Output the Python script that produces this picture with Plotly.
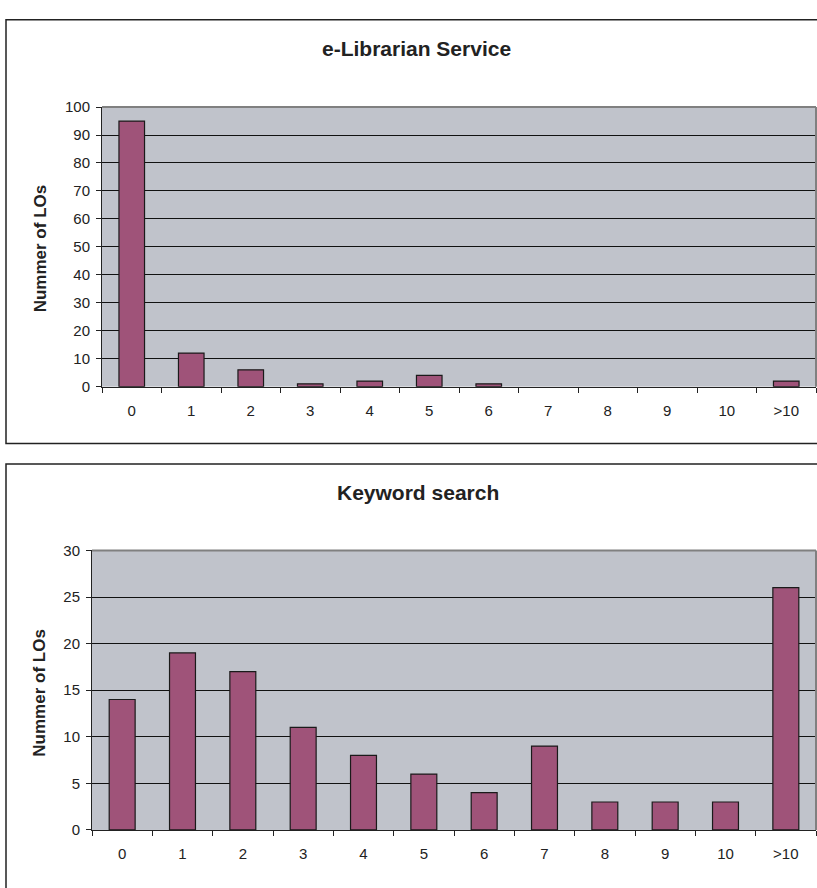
import plotly.graph_objects as go

# Number of learning objects per rank bucket
categories = ["0", "1", "2", "3", "4", "5", "6", "7", "8", "9", "10", ">10"]
elibrarian_counts = [95, 12, 6, 1, 2, 4, 1, 0, 0, 0, 0, 2]
keyword_counts = [14, 19, 17, 11, 8, 6, 4, 9, 3, 3, 3, 26]

W, H = 817, 888
BAR_FILL = "#9F5379"
PLOT_BG = "#C0C3CB"
FONT = "Liberation Sans, Arial, sans-serif"


def px_x(x):
    return x / W


def px_y(y):
    return 1 - y / H


def outline_widths(values):
    # empty buckets get no outline so no stray line sits on the axis
    return [1.2 if v > 0 else 0 for v in values]


fig = go.Figure()
fig.add_trace(go.Bar(x=categories, y=elibrarian_counts, xaxis="x", yaxis="y",
                     marker=dict(color=BAR_FILL,
                                 line=dict(color="#1a1a1a", width=outline_widths(elibrarian_counts)))))
fig.add_trace(go.Bar(x=categories, y=keyword_counts, xaxis="x2", yaxis="y2",
                     marker=dict(color=BAR_FILL,
                                 line=dict(color="#1a1a1a", width=outline_widths(keyword_counts)))))

xaxis_common = dict(type="category", tickson="boundaries", ticks="outside", ticklen=5,
                    tickcolor="#222", showline=True, linecolor="#222", linewidth=1,
                    showgrid=False, zeroline=False, ticklabelstandoff=10,
                    tickfont=dict(family=FONT, size=15, color="#222"), fixedrange=True)
yaxis_common = dict(ticks="outside", ticklen=5, tickcolor="#222", showline=True,
                    linecolor="#222", linewidth=1, showgrid=True, gridcolor="#111",
                    gridwidth=1, zeroline=False, ticklabelstandoff=3,
                    tickfont=dict(family=FONT, size=15, color="#222"), fixedrange=True)

top_plot = dict(x0=102, x1=816, y0=100, y1=385)
bot_plot = dict(x0=92, x1=816, y0=552, y1=837)

fig.update_layout(
    width=W, height=H, margin=dict(l=0, r=0, t=0, b=0),
    paper_bgcolor="white", plot_bgcolor=PLOT_BG, showlegend=False, bargap=0.57,
    xaxis=dict(xaxis_common, domain=[px_x(top_plot["x0"]), px_x(top_plot["x1"])], anchor="y"),
    yaxis=dict(yaxis_common, domain=[px_y(top_plot["y1"]), px_y(top_plot["y0"])],
               range=[0, 100], dtick=10, anchor="x"),
    xaxis2=dict(xaxis_common, domain=[px_x(bot_plot["x0"]), px_x(bot_plot["x1"])], anchor="y2"),
    yaxis2=dict(yaxis_common, domain=[px_y(bot_plot["y1"]), px_y(bot_plot["y0"])],
                range=[0, 30], dtick=5, anchor="x2"),
)

shapes = []
# Outer chart frames
shapes.append(dict(type="rect", xref="paper", yref="paper",
                   x0=px_x(6), x1=1.01, y0=px_y(443), y1=px_y(11),
                   line=dict(color="#222", width=1.5), layer="below"))
shapes.append(dict(type="rect", xref="paper", yref="paper",
                   x0=px_x(6), x1=1.01, y0=-0.02, y1=px_y(464),
                   line=dict(color="#222", width=1.5), layer="below"))
# Plot-area border on top and right (gray)
for xa, ya in (("x", "y"), ("x2", "y2")):
    shapes.append(dict(type="line", xref=f"{xa} domain", yref=f"{ya} domain",
                       x0=0, x1=1, y0=1, y1=1, line=dict(color="#808080", width=2)))
    shapes.append(dict(type="line", xref=f"{xa} domain", yref=f"{ya} domain",
                       x0=1, x1=1, y0=0, y1=1, line=dict(color="#808080", width=2)))
fig.update_layout(shapes=shapes)

annotations = [
    dict(text="<b>e-Librarian Service</b>", x=px_x(417), y=px_y(40), xref="paper", yref="paper",
         showarrow=False, xanchor="center", yanchor="middle",
         font=dict(family=FONT, size=21, color="#222")),
    dict(text="<b>Keyword search</b>", x=px_x(418), y=px_y(493), xref="paper", yref="paper",
         showarrow=False, xanchor="center", yanchor="middle",
         font=dict(family=FONT, size=21, color="#222")),
    dict(text="<b>Nummer of LOs</b>", x=px_x(40), y=px_y(244), xref="paper", yref="paper",
         showarrow=False, xanchor="center", yanchor="middle", textangle=-90,
         font=dict(family=FONT, size=17, color="#222")),
    dict(text="<b>Nummer of LOs</b>", x=px_x(40), y=px_y(697), xref="paper", yref="paper",
         showarrow=False, xanchor="center", yanchor="middle", textangle=-90,
         font=dict(family=FONT, size=17, color="#222")),
]
fig.update_layout(annotations=annotations)

fig.write_html("out.html")
